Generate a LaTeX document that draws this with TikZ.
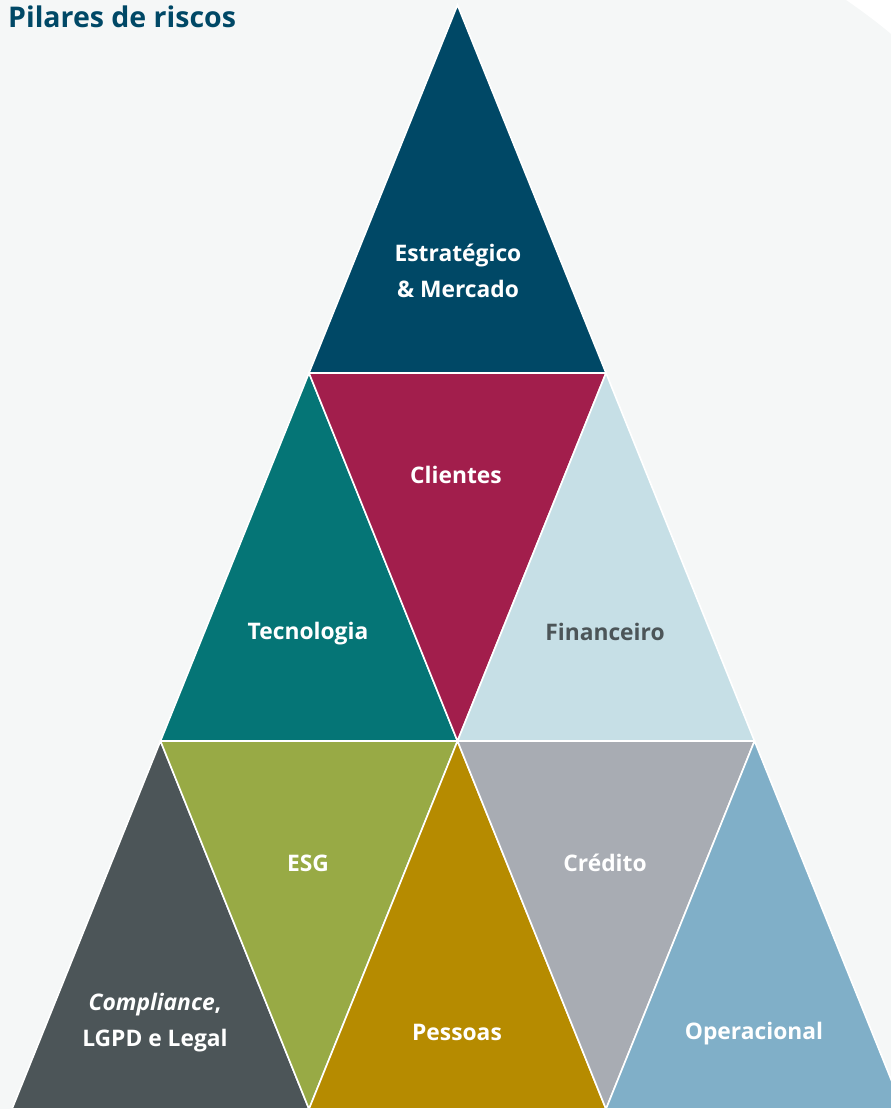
\documentclass[tikz,border=0pt]{standalone}
\usepackage{fontspec}
\setmainfont{Open Sans}
\definecolor{bgpage}{HTML}{F5F7F7}
\definecolor{navy}{HTML}{004866}
\definecolor{crimson}{HTML}{A21E4C}
\definecolor{teal}{HTML}{057576}
\definecolor{paleblue}{HTML}{C6DFE6}
\definecolor{olive}{HTML}{98AA45}
\definecolor{gold}{HTML}{B68B00}
\definecolor{steel}{HTML}{A8ACB3}
\definecolor{slate}{HTML}{4C5558}
\definecolor{skyblue}{HTML}{80AFC8}
\begin{document}
\begin{tikzpicture}[x=1pt,y=-1pt,
  tri/.style={draw=white,line width=1.6pt,line join=miter},
  lbl/.style={font=\fontsize{22.8}{36}\selectfont\bfseries,text=white,align=center,inner sep=0pt},
  title/.style={font=\fontsize{28.5}{32}\selectfont\bfseries,text=navy,anchor=base west,inner sep=0pt}]
\useasboundingbox (0,0) rectangle (891,1109);
\clip (0,0) rectangle (891,1109);
% page background with the trimmed top-right corner
\fill[bgpage] (0,0) -- (846,0) .. controls (862,11) and (878,23) .. (891,34) -- (891,1109) -- (0,1109) -- cycle;
% pyramid grid: rows 368 high, half base 148.5
% row 1
\filldraw[tri,fill=navy] (457.5,5) -- (309,373) -- (606,373) -- cycle;
% row 2
\filldraw[tri,fill=teal] (309,373) -- (160.5,741) -- (457.5,741) -- cycle;
\filldraw[tri,fill=crimson] (309,373) -- (606,373) -- (457.5,741) -- cycle;
\filldraw[tri,fill=paleblue] (606,373) -- (457.5,741) -- (754.5,741) -- cycle;
% row 3
\filldraw[tri,fill=slate] (160.5,741) -- (12,1109) -- (309,1109) -- cycle;
\filldraw[tri,fill=olive] (160.5,741) -- (457.5,741) -- (309,1109) -- cycle;
\filldraw[tri,fill=gold] (457.5,741) -- (309,1109) -- (606,1109) -- cycle;
\filldraw[tri,fill=steel] (457.5,741) -- (754.5,741) -- (606,1109) -- cycle;
\filldraw[tri,fill=skyblue] (754.5,741) -- (606,1109) -- (903,1109) -- cycle;
% title
\node[title] (title) at (8,27) {Pilares de riscos};
% labels
\node[lbl] (estr) at (458,271) {Estratégico\\\& Mercado};
\node[lbl] (cli) at (456,475) {Clientes};
\node[lbl] (tec) at (308,634) {Tecnologia};
\node[lbl,text=slate] (fin) at (605,632) {Financeiro};
\node[lbl] (esg) at (308,863) {ESG};
\node[lbl] (cred) at (605,863) {Crédito};
\node[lbl] (comp) at (155,1023) {\textit{Compliance},\\LGPD e Legal};
\node[lbl] (pess) at (457,1032) {Pessoas};
\node[lbl] (oper) at (754,1034) {Operacional};
\end{tikzpicture}
\end{document}
